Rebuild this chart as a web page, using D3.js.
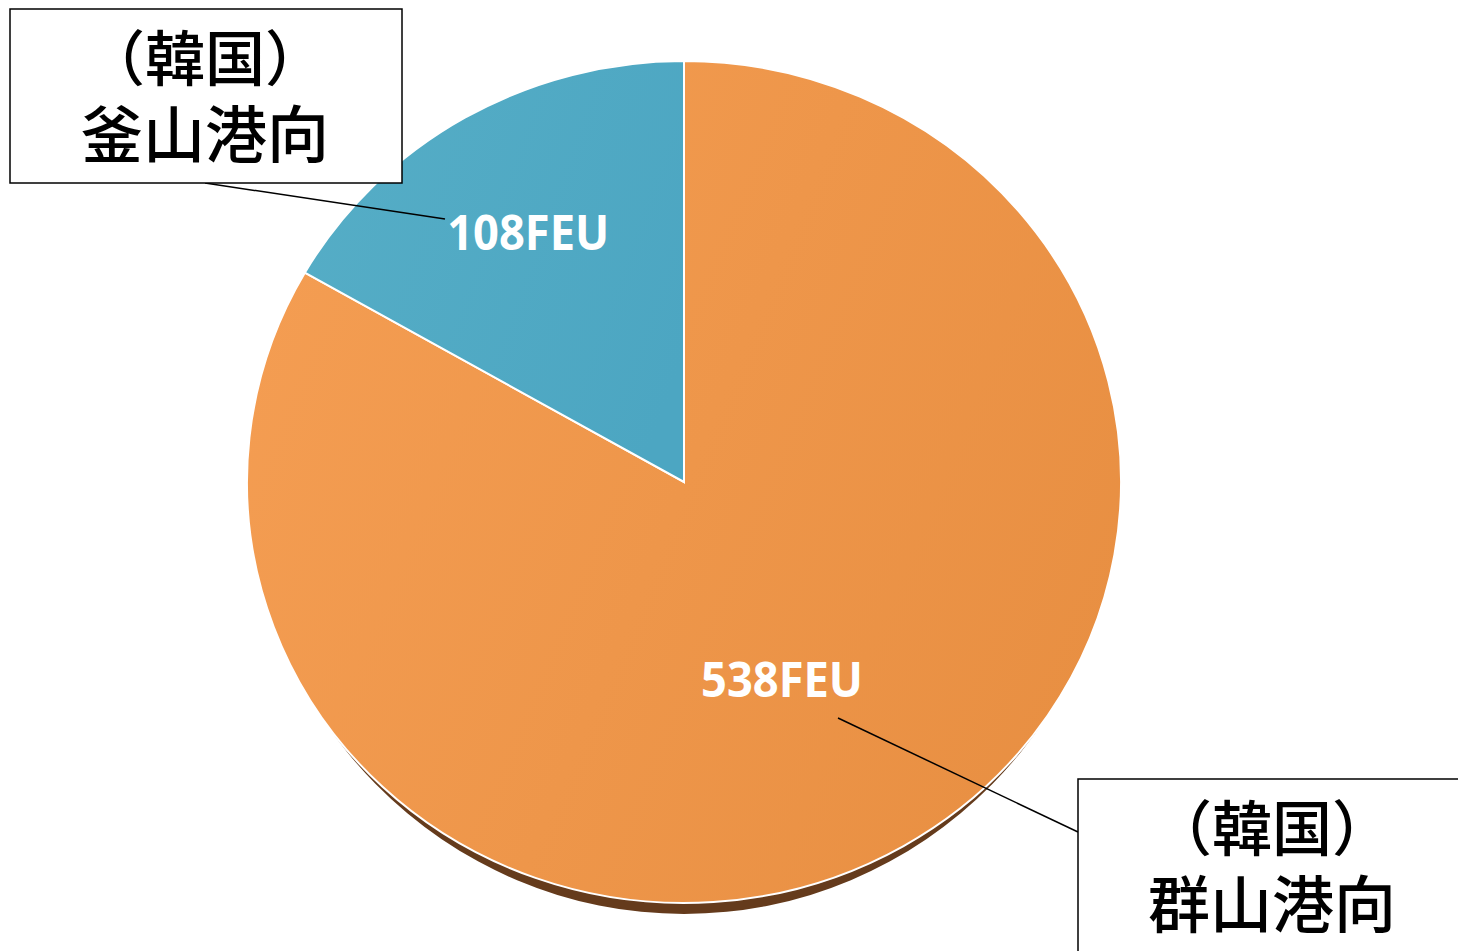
<!DOCTYPE html>
<html><head><meta charset="utf-8">
<script src="https://cdn.jsdelivr.net/npm/d3@7"></script>
<style>body{margin:0;background:#fff}svg{display:block}</style>
</head><body>
<svg id="c" width="1458" height="951"></svg>
<script>
const categories = ["群山港向", "釜山港向"];
const values = [538, 108];
const units = "FEU";
const calloutTop = "（韓国）";

const W = 1458, H = 951;
const cx = 684, cy = 482, rx = 437, ry = 421;
const svg = d3.select("#c");
const defs = svg.append("defs");

const gO = defs.append("linearGradient").attr("id","gO").attr("x1","0").attr("y1","0.3").attr("x2","1").attr("y2","0.7");
gO.append("stop").attr("offset","0").attr("stop-color","#F49D52");
gO.append("stop").attr("offset","1").attr("stop-color","#E88F42");
const gB = defs.append("linearGradient").attr("id","gB").attr("x1","0").attr("y1","0.3").attr("x2","1").attr("y2","0.7");
gB.append("stop").attr("offset","0").attr("stop-color","#55ADC6");
gB.append("stop").attr("offset","1").attr("stop-color","#4CA6C2");
const fills = ["url(#gO)", "url(#gB)"];

defs.append("clipPath").attr("id","lowClip").append("rect")
  .attr("x",0).attr("y",640).attr("width",W).attr("height",H-640);

const pie = d3.pie().sort(null).value(d => d);
const arcs = pie(values);
const arc = d3.arc().innerRadius(0).outerRadius(rx);

// shadow (visible under the lower rim only)
svg.append("g").attr("clip-path","url(#lowClip)")
  .append("g")
  .attr("transform", `translate(${cx},${cy-12}) scale(1,${445/rx})`)
  .append("path")
  .attr("d", d3.arc().innerRadius(0).outerRadius(rx-1).startAngle(0).endAngle(2*Math.PI)())
  .attr("fill", "#653B1C");

const g = svg.append("g").attr("transform", `translate(${cx},${cy}) scale(1,${ry/rx})`);
g.selectAll("path.s").data(arcs).join("path").attr("class","s")
  .attr("d", arc)
  .attr("fill", (d,i) => fills[i])
  .attr("stroke", "#fff")
  .attr("stroke-width", 2)
  .attr("vector-effect","non-scaling-stroke");

// label placement (angle offset in rad, radius fraction)
const labelPlace = [[0.080, 0.521], [-0.017, 0.691]];
const lblPos = arcs.map((d,i) => {
  const a = (d.startAngle + d.endAngle)/2 + labelPlace[i][0];
  const r = labelPlace[i][1] * rx;
  return [cx + r*Math.sin(a), cy - r*Math.cos(a)*ry/rx];
});

const boxes = [
  {x: 1078, y: 779, w: 390, h: 180},
  {x: 10, y: 9, w: 392, h: 174}
];
const leaders = [
  [[838, 718], [1078, 832]],
  [[205, 183], [445, 219]]
];
svg.selectAll("line.ld").data(leaders).join("line").attr("class","ld")
  .attr("x1", d=>d[0][0]).attr("y1", d=>d[0][1]).attr("x2", d=>d[1][0]).attr("y2", d=>d[1][1])
  .attr("stroke","#000").attr("stroke-width",1.5);

// value labels
svg.selectAll("text.v").data(arcs).join("text").attr("class","v")
  .attr("x", (d,i)=>lblPos[i][0]).attr("y", (d,i)=>lblPos[i][1]+17)
  .attr("text-anchor","middle")
  .attr("font-family","'Open Sans', sans-serif").attr("font-weight",700)
  .attr("font-size",48).attr("fill","#fff")
  .attr("textLength",162).attr("lengthAdjust","spacingAndGlyphs")
  .text(d => d.data + units);

// callout boxes
const bg = svg.selectAll("g.box").data(boxes).join("g").attr("class","box");
bg.append("rect").attr("x",d=>d.x).attr("y",d=>d.y).attr("width",d=>d.w).attr("height",d=>d.h)
  .attr("fill","#fff").attr("stroke","#000").attr("stroke-width",1.5);
bg.append("text").attr("x",d=>d.x+d.w/2-1).attr("y",d=>d.y+72)
  .attr("text-anchor","middle").attr("font-family","'Noto Sans CJK JP'").attr("font-weight",500)
  .attr("font-size",60).attr("fill","#000").text(calloutTop);
bg.append("text").attr("x",d=>d.x+d.w/2-1).attr("y",d=>d.y+149)
  .attr("text-anchor","middle").attr("font-family","'Noto Sans CJK JP'").attr("font-weight",500)
  .attr("font-size",62).attr("fill","#000").text((d,i)=>categories[i]);
</script>
</body></html>
